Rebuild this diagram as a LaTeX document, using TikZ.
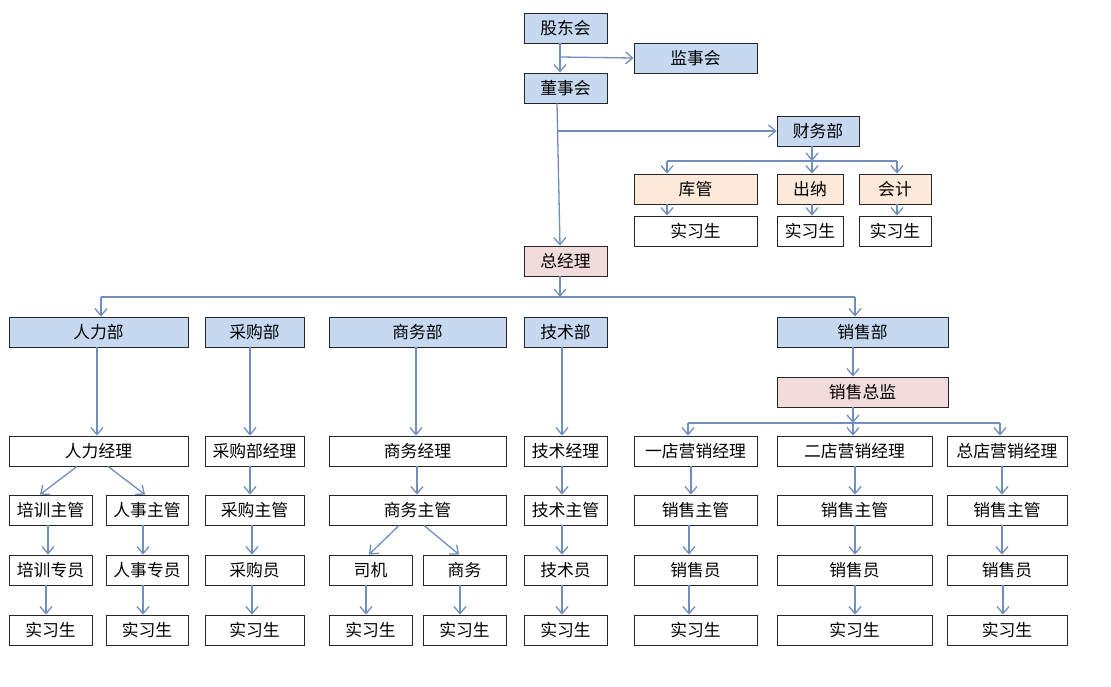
\documentclass[tikz,border=0pt]{standalone}
\usepackage{fontspec}
\setmainfont{Noto Sans CJK SC}
\usepackage{xcolor}
\usetikzlibrary{arrows.meta}

\definecolor{linkblue}{RGB}{112,142,190}
\definecolor{deptblue}{RGB}{198,217,241}
\definecolor{peach}{RGB}{253,233,217}
\definecolor{rose}{RGB}{242,220,219}

\tikzset{
	box/.style={draw=black!85, line width=0.9pt, minimum height=30pt, inner sep=0pt, font=\fontsize{16.8}{19}\selectfont},
	dept/.style={box, fill=deptblue},
	staff/.style={box, fill=peach},
	head/.style={box, fill=rose},
	link/.style={draw=linkblue, line width=1.3pt},
	conn/.style={link, -{Straight Barb[length=7pt, width=12pt]}}
}

\begin{document}
\begin{tikzpicture}[x=1pt, y=-1pt]
			\useasboundingbox (0,0) rectangle (1111,686);
		
			\node[dept, minimum width=83pt] (gdh) at (565.5,28) {股东会};
			\node[dept, minimum width=123pt] (jsh) at (695.5,58) {监事会};
			\node[dept, minimum width=83pt] (dsh) at (565.5,88) {董事会};
			\node[dept, minimum width=82pt] (cwb) at (818,131) {财务部};
			\node[staff, minimum width=123pt] (kg) at (695.5,189) {库管};
			\node[staff, minimum width=66pt] (cn) at (810,189) {出纳};
			\node[staff, minimum width=72pt] (kj) at (895,189) {会计};
			\node[box, minimum width=123pt] (kgsx) at (695.5,231) {实习生};
			\node[box, minimum width=66pt] (cnsx) at (810,231) {实习生};
			\node[box, minimum width=72pt] (kjsx) at (895,231) {实习生};
			\node[head, minimum width=83pt] (zjl) at (565.5,261) {总经理};
			
			\node[dept, minimum width=179pt] (rlb) at (98.5,332) {人力部};
			\node[dept, minimum width=99pt] (cgb) at (254.5,332) {采购部};
			\node[dept, minimum width=177pt] (swb) at (417.5,332) {商务部};
			\node[dept, minimum width=83pt] (jsb) at (565.5,332) {技术部};
			\node[dept, minimum width=171pt] (xsb) at (862.5,332) {销售部};
			\node[head, minimum width=171pt] (xszj) at (862.5,392) {销售总监};
			
			\node[box, minimum width=179pt] (rljl) at (98.5,451) {人力经理};
			\node[box, minimum width=99pt] (cgjl) at (254.5,451) {采购部经理};
			\node[box, minimum width=177pt] (swjl) at (417.5,451) {商务经理};
			\node[box, minimum width=83pt] (jsjl) at (565.5,451) {技术经理};
			\node[box, minimum width=123pt] (yd) at (695.5,451) {一店营销经理};
			\node[box, minimum width=155pt] (ed) at (854.5,451) {二店营销经理};
			\node[box, minimum width=120pt] (zd) at (1007,451) {总店营销经理};
			
			\node[box, minimum width=83pt] (pxzg) at (50.5,510) {培训主管};
			\node[box, minimum width=82pt] (rszg) at (147,510) {人事主管};
			\node[box, minimum width=99pt] (cgzg) at (254.5,510) {采购主管};
			\node[box, minimum width=177pt] (swzg) at (417.5,510) {商务主管};
			\node[box, minimum width=83pt] (jszg) at (565.5,510) {技术主管};
			\node[box, minimum width=123pt] (ydzg) at (695.5,510) {销售主管};
			\node[box, minimum width=155pt] (edzg) at (854.5,510) {销售主管};
			\node[box, minimum width=120pt] (zdzg) at (1007,510) {销售主管};
			
			\node[box, minimum width=83pt] (pxzy) at (50.5,570) {培训专员};
			\node[box, minimum width=82pt] (rszy) at (147,570) {人事专员};
			\node[box, minimum width=99pt] (cgy) at (254.5,570) {采购员};
			\node[box, minimum width=83pt] (sj) at (370.5,570) {司机};
			\node[box, minimum width=83pt] (swr) at (464.5,570) {商务};
			\node[box, minimum width=83pt] (jsy) at (565.5,570) {技术员};
			\node[box, minimum width=123pt] (ydy) at (695.5,570) {销售员};
			\node[box, minimum width=155pt] (edy) at (854.5,570) {销售员};
			\node[box, minimum width=120pt] (zdy) at (1007,570) {销售员};
			
			\foreach \n/\x/\w in {pxsx/50.5/83, rssx/147/82, cgsx/254.5/99, sjsx/370.5/83, swsx/464.5/83,
				jssx/565.5/83, ydsx/695.5/123, edsx/854.5/155, zdsx/1007/120}
				\node[box, minimum width=\w pt] (\n) at (\x,630) {实习生};
			
			\coordinate (gdj) at (560,57);
			\coordinate (dsj) at (558,131);
			\draw[conn] ([xshift=-5.5pt]gdh.south) -- ([xshift=-5.5pt]dsh.north);
			\draw[conn] (gdj) -- (jsh.west);
			\draw[conn] ([xshift=-8.5pt]dsh.south) -- ([xshift=-5.5pt]zjl.north);
			\draw[conn] (dsj) -- (cwb.west);
			
			\coordinate (cwl) at (667,161);
			\coordinate (cwm) at (812,161);
			\coordinate (cwr) at (897,161);
			\draw[conn] ([xshift=-6pt]cwb.south) -- (cwm);
			\draw[link] (cwl) -- (cwr);
			\draw[conn] (cwl) -- (cwl |- kg.north);
			\draw[conn] (cwm) -- (cwm |- cn.north);
			\draw[conn] (cwr) -- (cwr |- kj.north);
			\draw[conn] (kg.south -| cwl) -- (kgsx.north -| cwl);
			\draw[conn] (cn.south -| cwm) -- (cnsx.north -| cwm);
			\draw[conn] (kj.south -| cwr) -- (kjsx.north -| cwr);
			
			\coordinate (zjw) at (101,297);
			\coordinate (zjm) at (560,297);
			\coordinate (zje) at (855,297);
			\draw[conn] ([xshift=-5.5pt]zjl.south) -- (zjm);
			\draw[link] (zjw) -- (zje);
			\draw[conn] (zjw) -- (zjw |- rlb.north);
			\draw[conn] (zje) -- (zje |- xsb.north);
			
			\coordinate (xsw) at (688,423);
			\coordinate (xsm) at (853,423);
			\coordinate (xse) at (1000,423);
			\draw[conn] ([xshift=-9.5pt]xsb.south) -- ([xshift=-9.5pt]xszj.north);
			\draw[conn] ([xshift=-9.5pt]xszj.south) -- (xsm);
			\draw[link] (xsw) -- (xse);
			\draw[conn] (xsw) -- (xsw |- yd.north);
			\draw[conn] (xsm) -- (xsm |- ed.north);
			\draw[conn] (xse) -- (xse |- zd.north);
			
			\foreach \a/\b/\s in {rlb/rljl/-1.5, cgb/cgjl/-4.5, swb/swjl/-1.5, jsb/jsjl/-3.5,
				cgjl/cgzg/-4.5, swjl/swzg/-0.5, jsjl/jszg/-3.5, yd/ydzg/-4.5, ed/edzg/0.5, zd/zdzg/-5,
				pxzg/pxzy/-2.5, rszg/rszy/-4, cgzg/cgy/-2.5, jszg/jsy/-3.5, ydzg/ydy/-6.5, edzg/edy/0.5, zdzg/zdy/-5,
				pxzy/pxsx/-4.5, rszy/rssx/-4, cgy/cgsx/-2.5, sj/sjsx/-4.5, swr/swsx/-4.5,
				jsy/jssx/-3.5, ydy/ydsx/-6.5, edy/edsx/0.5, zdy/zdsx/-4}
				\draw[conn] ([xshift=\s pt]\a.south) -- ([xshift=\s pt]\b.north);
			
			\draw[conn] ([xshift=-21.5pt]rljl.south) -- ([xshift=-10.5pt]pxzg.north);
			\draw[conn] ([xshift=9.5pt]rljl.south) -- ([xshift=-2pt]rszg.north);
			\draw[conn] ([xshift=-18.5pt]swzg.south) -- ([xshift=-1.5pt]sj.north);
			\draw[conn] ([xshift=6.5pt]swzg.south) -- ([xshift=-5.5pt]swr.north);
		\end{tikzpicture}
\end{document}
